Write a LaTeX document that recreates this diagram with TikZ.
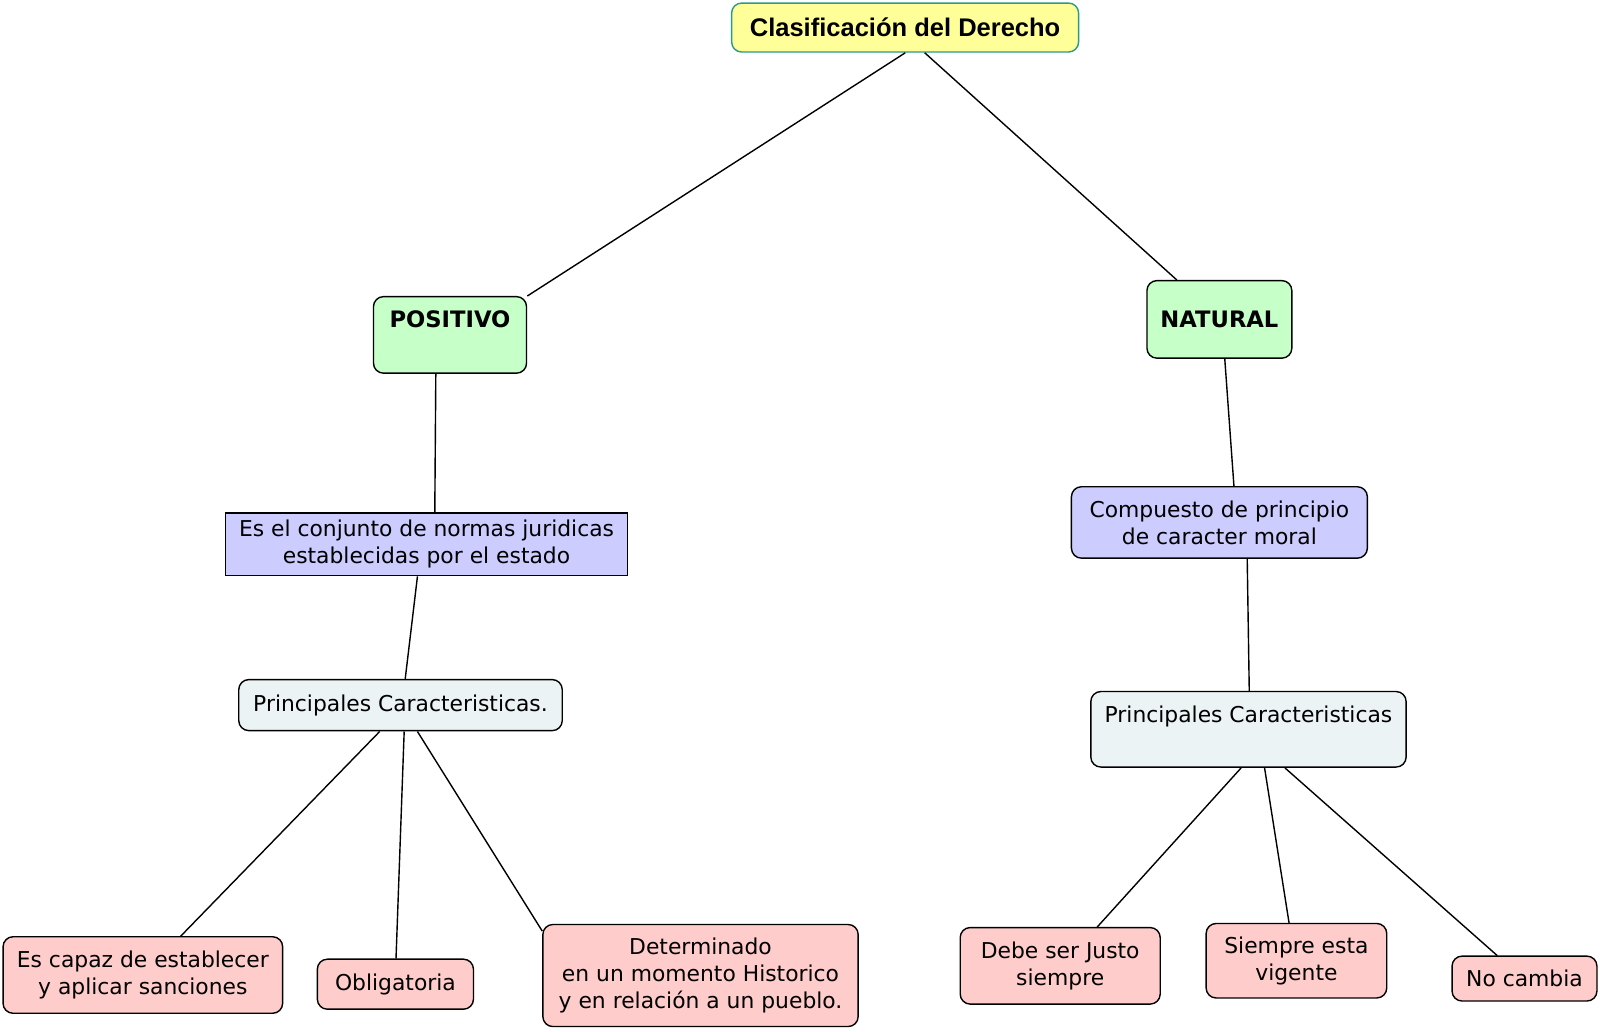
\documentclass[tikz,border=0pt]{standalone}
\usepackage{fontspec}
\setmainfont{DejaVu Sans}
\newfontfamily\titlefont{Liberation Sans}
\begin{document}
\begin{tikzpicture}[x=1pt,y=-1pt,scale=1.020408,
  every node/.append style={transform shape},
  box/.style={draw=black, line width=1.4pt, rounded corners=10pt, align=center,
    font=\fontsize{21.4}{26.5}\selectfont, inner sep=0pt},
  sq/.style={draw=black, line width=1.6pt, align=center,
    font=\fontsize{21.4}{26.5}\selectfont, inner sep=0pt},
  link/.style={draw=black, line width=1.4pt},
  grn/.style={fill={rgb,255:red,198;green,255;blue,200}},
  blu/.style={fill={rgb,255:red,204;green,204;blue,255}},
  lgt/.style={fill={rgb,255:red,235;green,243;blue,244}},
  pnk/.style={fill={rgb,255:red,255;green,204;blue,204}}]
\useasboundingbox (0,0) rectangle (1568,1010.4);
\definecolor{titleborder}{RGB}{42,154,138}
\node[box, fill={rgb,255:red,255;green,255;blue,153}, draw=titleborder, minimum width=340pt, minimum height=48pt,
  font=\titlefont\bfseries\fontsize{25}{26}\selectfont] (title) at (887,27) {Clasificación del Derecho};
\node[box, grn, minimum width=150pt, text height=30pt, text depth=45pt, anchor=north,
  font=\bfseries\fontsize{22.2}{26}\selectfont] (pos) at (441,290) {POSITIVO};
\node[box, grn, minimum width=142pt, minimum height=76pt,
  font=\bfseries\fontsize{22.2}{26}\selectfont] (nat) at (1195,313) {NATURAL};
\node[sq, blu, minimum width=394pt, minimum height=61pt] (conj) at (418,533.5)
  {Es el conjunto de normas juridicas\\establecidas por el estado};
\node[box, blu, minimum width=290pt, minimum height=70pt] (comp) at (1195,512)
  {Compuesto de principio\\de caracter moral};
\node[box, lgt, minimum width=317pt, minimum height=50pt] (prl) at (392.5,691)
  {Principales Caracteristicas.};
\node[box, lgt, minimum width=309pt, text height=30pt, text depth=44pt, anchor=north] (prr) at (1223.5,677)
  {Principales Caracteristicas};
\node[box, pnk, minimum width=274pt, minimum height=75pt] (cap) at (140,955.5)
  {Es capaz de establecer\\y aplicar sanciones};
\node[box, pnk, minimum width=153pt, minimum height=49pt] (obl) at (387.5,964.5) {Obligatoria};
\node[box, pnk, minimum width=309pt, minimum height=100pt] (det) at (686.5,956)
  {Determinado\\en un momento Historico\\y en relación a un pueblo.};
\node[box, pnk, minimum width=196pt, minimum height=75pt] (debe) at (1039,946.5)
  {Debe ser Justo\\siempre};
\node[box, pnk, minimum width=177pt, minimum height=73pt] (siem) at (1270.5,941.5)
  {Siempre esta\\vigente};
\node[box, pnk, minimum width=142pt, minimum height=44pt] (noc) at (1494,959) {No cambia};
\draw[link] (title.south) -- (pos.north east);
\draw[link] ([xshift=19pt]title.south) -- ([xshift=-42pt]nat.north);
\draw[link] ([xshift=-14pt]pos.south) -- ([xshift=8pt]conj.north);
\draw[link] ([xshift=5pt]nat.south) -- ([xshift=14pt]comp.north);
\draw[link] ([xshift=-9pt]conj.south) -- ([xshift=4.5pt]prl.north);
\draw[link] ([xshift=27pt]comp.south) -- ([xshift=0.5pt]prr.north);
\draw[link] ([xshift=-20.5pt]prl.south) -- ([xshift=37pt]cap.north);
\draw[link] ([xshift=3.5pt]prl.south) -- ([xshift=0.5pt]obl.north);
\draw[link] ([xshift=16.5pt]prl.south) -- ([yshift=-7pt]det.north west);
\draw[link] ([xshift=-7.5pt]prr.south) -- ([xshift=36pt]debe.north);
\draw[link] ([xshift=15.5pt]prr.south) -- ([xshift=-7.5pt]siem.north);
\draw[link] ([xshift=35.5pt]prr.south) -- ([xshift=-27pt]noc.north);
\end{tikzpicture}
\end{document}
